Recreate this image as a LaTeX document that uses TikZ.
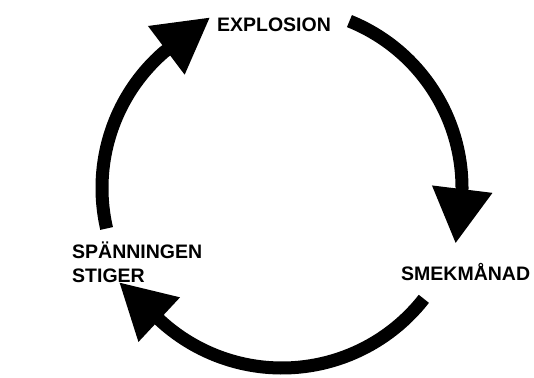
\documentclass[tikz,border=0pt]{standalone}
\usepackage{fontspec}
\setmainfont{Liberation Sans}
\usetikzlibrary{arrows.meta}

\begin{document}
\begin{tikzpicture}[x=1pt, y=1pt,
  fas/.style={font=\fontsize{19.5}{23}\selectfont\bfseries, inner sep=0pt},
  pil/.style={line width=13pt, -{Triangle[length=55pt, width=57pt]}}]
\useasboundingbox (0,0) rectangle (534,377);
\coordinate (mitt) at (282,189);
% faserna
\node[fas, anchor=base] (explosion) at (274,345) {EXPLOSION};
\node[fas, anchor=base west] (smek) at (401,96) {SMEKMÅNAD};
\node[fas, anchor=base west, align=left] (spanning) at (72,95) {SPÄNNINGEN\\STIGER};
% pilarna runt cirkeln
\path (mitt) ++(68:180) coordinate (s1)
      (mitt) ++(-38:180) coordinate (s2)
      (mitt) ++(193:180) coordinate (s3);
\draw[pil] (s1) arc[start angle=68, end angle=-1, radius=180] -- ++(-97:53);
\draw[pil] (s2) arc[start angle=-38, end angle=-133, radius=180] -- ++(137:55);
\draw[pil] (s3) arc[start angle=193, end angle=131, radius=180] -- ++(37:58);
\end{tikzpicture}
\end{document}
